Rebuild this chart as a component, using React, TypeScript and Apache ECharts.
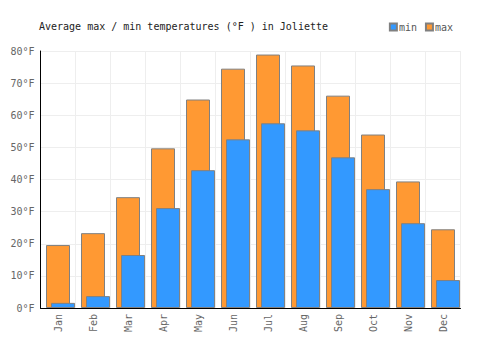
import React, { useEffect, useRef } from "react";
import * as echarts from "echarts";

const months = ["Jan", "Feb", "Mar", "Apr", "May", "Jun", "Jul", "Aug", "Sep", "Oct", "Nov", "Dec"];
const minTemps = [1.6, 3.7, 16.5, 31.1, 42.9, 52.5, 57.5, 55.3, 46.9, 37.0, 26.4, 8.7];
const maxTemps = [19.6, 23.3, 34.5, 49.7, 64.9, 74.5, 78.9, 75.5, 66.1, 54.0, 39.4, 24.5];
const yTicks = [0, 10, 20, 30, 40, 50, 60, 70, 80];

const FONT = "DejaVu Sans Mono";

export default function App() {
  const ref = useRef<HTMLDivElement>(null);
  useEffect(() => {
    if (!ref.current) return;
    const chart = echarts.init(ref.current, undefined, { renderer: "svg" });
    chart.setOption({
      animation: false,
      textStyle: { fontFamily: FONT },
      title: {
        text: "Average max / min temperatures (°F ) in Joliette",
        left: 34,
        top: 16,
        textStyle: { fontFamily: FONT, fontSize: 10, fontWeight: "normal", color: "#222" },
      },
      legend: {
        data: ["min", "max"],
        right: 42,
        top: 17,
        itemWidth: 7,
        itemHeight: 7,
        itemGap: 8,
        icon: "rect",
        textStyle: { fontFamily: FONT, fontSize: 10, color: "#555", padding: [0, 0, 0, -3] },
      },
      grid: { left: 40.5, right: 39.5, top: 51, bottom: 42 },
      xAxis: {
        type: "category",
        data: months,
        axisLine: { lineStyle: { color: "#000", width: 1 } },
        axisTick: { show: false },
        splitLine: { show: true, lineStyle: { color: "#eeeeee" } },
        axisLabel: { rotate: 90, color: "#666", fontFamily: FONT, fontSize: 10, margin: 6 },
      },
      yAxis: {
        type: "value",
        min: 0,
        max: 80,
        interval: 10,
        axisLine: { show: true, lineStyle: { color: "#000", width: 1 } },
        axisTick: { show: false },
        splitLine: { show: true, lineStyle: { color: "#eeeeee" } },
        axisLabel: {
          color: "#666",
          fontFamily: FONT,
          fontSize: 10,
          margin: 6,
          formatter: (v: number) => (yTicks.includes(v) ? `${v}°F` : ""),
        },
      },
      series: [
        { name: "dummy", type: "bar", data: [], barWidth: 24, barGap: "-79%" },
        {
          name: "max",
          type: "bar",
          data: maxTemps,
          barWidth: 24,
          barGap: "-79%",
          itemStyle: { color: "#ff9933", borderColor: "#808080", borderWidth: 1 },
        },
        {
          name: "min",
          type: "bar",
          data: minTemps,
          barWidth: 24,
          barGap: "-79%",
          itemStyle: { color: "#3399ff", borderColor: "#808080", borderWidth: 1 },
        },
      ],
    });
    return () => chart.dispose();
  }, []);
  return <div ref={ref} style={{ width: 500, height: 350, margin: -8 }} />;
}
